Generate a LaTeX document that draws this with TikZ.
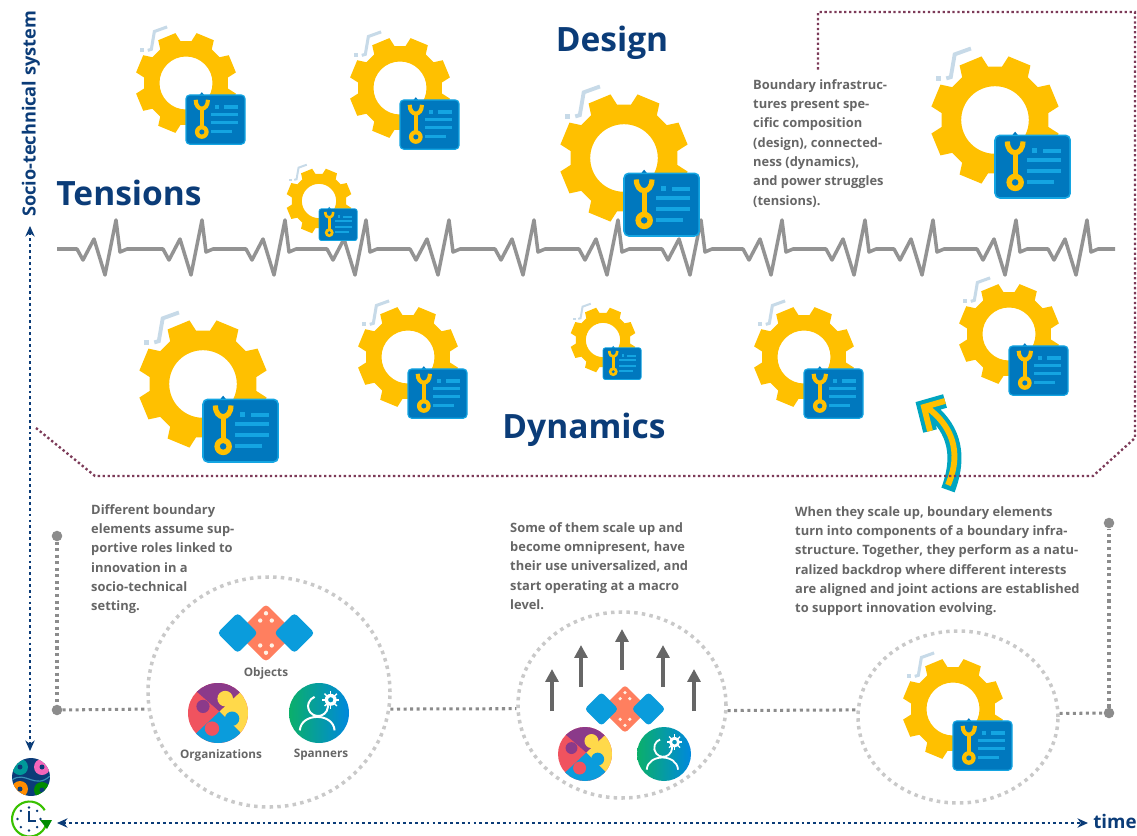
\documentclass[tikz,border=0pt]{standalone}
\usepackage{fontspec}
\setmainfont{Open Sans}
\usetikzlibrary{shapes.geometric, arrows.meta}
\frenchspacing

\definecolor{navyblue}{HTML}{0B3C78}
\definecolor{geartone}{HTML}{FFC000}
\definecolor{badgeblue}{HTML}{0078BE}
\definecolor{badgeline}{HTML}{14A5E2}
\definecolor{tracktone}{HTML}{C7DAE8}
\definecolor{bordertone}{HTML}{7C3A58}
\definecolor{texttone}{HTML}{666666}
\definecolor{ringtone}{HTML}{C9C9C9}
\definecolor{linktone}{HTML}{8C8C8C}
\definecolor{dicetone}{HTML}{FF7F5F}
\definecolor{diamondtone}{HTML}{0A9CDC}
\definecolor{puzzlered}{HTML}{F0535F}
\definecolor{puzzlepurple}{HTML}{8B3A8A}
\definecolor{puzzleyellow}{HTML}{FFD94A}
\definecolor{spannergreen}{HTML}{0BAF6A}
\definecolor{spannerblue}{HTML}{0088DD}
\definecolor{arrowteal}{HTML}{00A5C0}

\tikzset{
  bigtitle/.style={text=navyblue, inner sep=0, font=\fontsize{28.6}{30}\selectfont\bfseries},
  bodytext/.style={text=texttone, inner sep=0, anchor=north west, align=left, font=\fontsize{11}{16.5}\selectfont\bfseries},
  iconlabel/.style={text=texttone, inner sep=0, font=\fontsize{10}{12}\selectfont\bfseries},
  ringnode/.style={ellipse, draw=ringtone, line width=3pt, dash pattern=on 3pt off 3.6pt, inner sep=0},
  linkdots/.style={draw=linktone, line width=2.6pt, dash pattern=on 2.6pt off 3pt},
  enddot/.style={circle, fill=linktone, inner sep=0, minimum size=9pt},
  axisdots/.style={navyblue, line width=2.4pt, dash pattern=on 2.4pt off 2.6pt, {Stealth[length=9pt, width=8pt]}-{Stealth[length=9pt, width=8pt]}},
  framedots/.style={draw=bordertone, line width=2pt, dash pattern=on 2pt off 2.2pt}
}

\newcommand{\cogicon}[3]{
  \begin{scope}[shift={(#1,#2)}, scale=#3]
    \draw[tracktone, line width=#3*0.0018cm] (-.37,-1.1) -- (-.62,-1.01) -- (-.68,-.66) -- (-.75,-.64);
    \fill[tracktone] (-.91,-.68) rectangle (-.83,-.6);
    \fill[geartone, even odd rule] (7.5:.83) foreach \a in {22.5,67.5,...,337.5} {
      -- (\a-15:.83) -- (\a-10.5:1) -- (\a+10.5:1) -- (\a+15:.83)} -- cycle (0,0) circle (.52);
    \fill[badgeblue] (.26,.24) -- (.31,.18) -- (.36,.24) -- cycle;
    \draw[badgeline, fill=badgeblue, line width=#3*0.0007cm, rounded corners=#3*0.0022cm] (0,.235) rectangle (1.157,1.2);
    \draw[geartone, line width=#3*0.0024cm] (.19,.33) .. controls (.19,.56) and (.43,.56) .. (.43,.33);
    \draw[geartone, line width=#3*0.0024cm] (.31,.5) -- (.31,.88);
    \fill[geartone] (.31,.96) circle (.135);
    \fill[badgeblue] (.31,.96) circle (.05);
    \fill[badgeline] (.575,.43) rectangle (.65,.51);
    \fill[badgeline] (.74,.44) rectangle (1.01,.5);
    \fill[badgeline] (.49,.59) rectangle (1.01,.65);
    \fill[badgeline] (.49,.75) rectangle (1.01,.81);
    \fill[badgeline] (.49,.92) rectangle (.9,.98);
  \end{scope}
}

\newcommand{\diceicon}[3]{
  \begin{scope}[shift={(#1,#2)}, scale=#3]
    \fill[dicetone, rounded corners=#3*0.004cm] (-1,0) -- (0,-1) -- (1,0) -- (0,1) -- cycle;
    \foreach \x/\y in {0/-.68, -.2/-.43, .2/-.43, 0/.68, -.2/.43, .2/.43}
      \fill[white!90!orange] (\x,\y) circle (.075);
    \foreach \x in {-.98,.98}
      \fill[diamondtone, rounded corners=#3*0.004cm] (\x-.7,0) -- (\x,-.7) -- (\x+.7,0) -- (\x,.7) -- cycle;
  \end{scope}
}

\newcommand{\puzzleicon}[3]{
  \begin{scope}[shift={(#1,#2)}, scale=#3]
    \clip (0,0) circle (1);
    \fill[puzzlered] (-1,-1) rectangle (1,1);
    \fill[puzzlepurple] (.05,-.05) -- (-1.5,-1.4) -- (1.5,-1.4) -- cycle;
    \fill[puzzleyellow] (.05,-.05) -- (1.5,-1.4) -- (1.5,1.4) -- cycle;
    \fill[diamondtone] (.05,-.05) -- (1.5,1.4) -- (-1.5,1.4) -- cycle;
    \fill[puzzleyellow] (.24,-.48) circle (.26);
    \fill[puzzlepurple] (-.5,-.22) circle (.22);
    \fill[puzzlered] (-.2,.52) circle (.24);
    \fill[diamondtone] (.47,.19) circle (.24);
  \end{scope}
}

\newcommand{\spannericon}[3]{
  \begin{scope}[shift={(#1,#2)}, scale=#3]
    \shade[left color=spannergreen, right color=spannerblue] (0,0) circle (1);
    \draw[white, line width=#3*0.002cm] (.22,-.44) arc (-40:250:.33);
    \draw[white, line width=#3*0.002cm] (-.64,.58) .. controls (-.6,-.02) and (.48,-.02) .. (.52,.58);
    \fill[white, even odd rule] (.39,-.44) circle (.2) (.39,-.44) circle (.09);
    \foreach \a in {0,45,...,315}
      \draw[white, line width=#3*0.0014cm] (.39,-.44) ++(\a:.18) -- ++(\a:.11);
  \end{scope}
}

\begin{document}
\begin{tikzpicture}[x=0.03cm, y=-0.03cm]
  \useasboundingbox (0,0) rectangle (1137,836);

  \cogicon{186}{83}{51}
  \cogicon{400}{88}{51}
  \cogicon{995}{120}{65}

  \draw[gray!85, line width=3pt, line join=round] (57,249)
    foreach \p in {116,202,285,366,449,534,618,701,782,865,933,1016,1087} {
      -- (\p-39,249) -- (\p-33,260) -- (\p-22,239) -- (\p-11,275) -- (\p,220) -- (\p+4,252) -- (\p+11,249)} -- (1115,249);
  \cogicon{319}{201}{33}
  \cogicon{624}{158}{65}

  \cogicon{203}{384}{65}
  \cogicon{408}{357}{51}
  \cogicon{603}{340}{33}
  \cogicon{804}{357}{51}
  \cogicon{1009}{334}{51}

  \foreach \c/\w/\s in {arrowteal/12pt/490, geartone/5pt/485}
    \draw[\c, line width=\w, line join=miter] (948,\s) .. controls (963,450) and (950,425) .. (928,408)
      (945,401) -- (924,407) -- (930,431);

  \coordinate (framea) at (36,428);
  \coordinate (frameb) at (95,476);
  \coordinate (framec) at (1093,476);
  \coordinate (framed) at (1135,438);
  \coordinate (framee) at (1135,12);
  \coordinate (framef) at (818,12);
  \coordinate (frameg) at (818,70);
  \path[framedots] (framea) -- (frameb) -- (framec) -- (framed) -- (framee) -- (framef) -- (frameg);

  \node[bigtitle] (designtitle) at (612,43) {Design};
  \node[bigtitle] (tensionstitle) at (129,193) {Tensions};
  \node[bigtitle] (dynamicstitle) at (584,430) {Dynamics};

  \node[bodytext] (infratext) at (753,79) {Boundary infrastruc-\\tures present spe-\\cific composition\\(design), connected-\\ness (dynamics),\\and power struggles\\(tensions).};
  \node[bodytext] (elementtext) at (91,504) {Different boundary\\elements assume sup-\\portive roles linked to\\innovation in a\\socio-technical\\setting.};
  \node[bodytext] (scaletext) at (510,522) {Some of them scale up and\\become omnipresent, have\\their use universalized, and\\start operating at a macro\\level.};
  \node[bodytext] (backdroptext) at (795,506) {When they scale up, boundary elements\\turn into components of a boundary infra-\\structure. Together, they perform as a natu-\\ralized backdrop where different interests\\are aligned and joint actions are established\\to support innovation evolving.};

  \node[ringnode, minimum width=7.26cm, minimum height=6.9cm] (roundone) at (269,692) {};
  \node[ringnode, minimum width=6.24cm, minimum height=5.58cm] (roundtwo) at (622,705) {};
  \node[ringnode, minimum width=6cm, minimum height=5.16cm] (roundthree) at (958,717) {};

  \node[enddot] (dotlefttop) at (57,536) {};
  \node[enddot] (dotleftlow) at (57,710) {};
  \node[enddot] (dotrighttop) at (1109,523) {};
  \node[enddot] (dotrightlow) at (1109,713) {};
  \path[linkdots] (dotlefttop) -- (dotleftlow);
  \path[linkdots] (dotleftlow) -- (roundone.188.5);
  \path[linkdots] (roundone.-8.5) -- (roundtwo.182.75);
  \path[linkdots] (roundtwo.-3.3) -- (roundthree.176.6);
  \path[linkdots] (roundthree.2.3) -- (dotrightlow);
  \path[linkdots] (dotrightlow) -- (dotrighttop);

  \diceicon{266}{633}{29}
  \puzzleicon{218}{713}{30}
  \spannericon{319}{713}{30}
  \node[iconlabel] (objectslabel) at (266,673) {Objects};
  \node[iconlabel] (organizationslabel) at (221,755) {Organizations};
  \node[iconlabel] (spannerslabel) at (321,755) {Spanners};

  \foreach \x/\y/\z in {552/711/669, 581/687/645, 622/670/629, 663/687/645, 694/711/669}
    \draw[texttone, line width=3.4pt, -{Triangle[length=11pt, width=11pt]}] (\x,\y) -- (\x,\z);
  \diceicon{625}{709}{24}
  \puzzleicon{585}{754}{27}
  \spannericon{664}{754}{27}

  \cogicon{953}{709}{51}

  \coordinate (axistop) at (30,226);
  \coordinate (axislow) at (30,751);
  \coordinate (axisleft) at (57,823);
  \coordinate (axisright) at (1088,823);
  \draw[axisdots] (axistop) -- (axislow);
  \draw[axisdots] (axisleft) -- (axisright);
  \node[text=navyblue, inner sep=0, rotate=90, font=\fontsize{15.5}{17}\selectfont\bfseries] (systemlabel) at (31,114) {Socio-technical system};
  \node[text=navyblue, inner sep=0, font=\fontsize{16}{18}\selectfont\bfseries] (timelabel) at (1115,821) {time};

  \begin{scope}
    \clip (31,777) circle (19);
    \fill[navyblue] (12,758) rectangle (50,796);
    \draw[cyan!70!black, line width=1pt] (12,780) .. controls (25,770) and (35,790) .. (50,776);
    \foreach \x/\y/\c in {20/767/teal!80!cyan, 42/767/magenta!60!white, 20/789/orange!90!yellow, 42/790/green!55!black} {
      \fill[\c] (\x,\y) circle (8);
      \fill[navyblue] (\x,\y) circle (2.5);
    }
  \end{scope}

  \draw[green!65!black!70!lime, line width=1.8pt] (46,825) arc (20:330:17.5);
  \foreach \a in {0,45,...,315}
    \fill[navyblue] (29,819) ++(\a:11.5) circle (1.3);
  \draw[navyblue, line width=1.4pt] (29,811) -- (29,821) -- (36,821);
  \fill[green!55!black] (40,820) -- (52,820) -- (47,829) -- cycle;
\end{tikzpicture}
\end{document}
